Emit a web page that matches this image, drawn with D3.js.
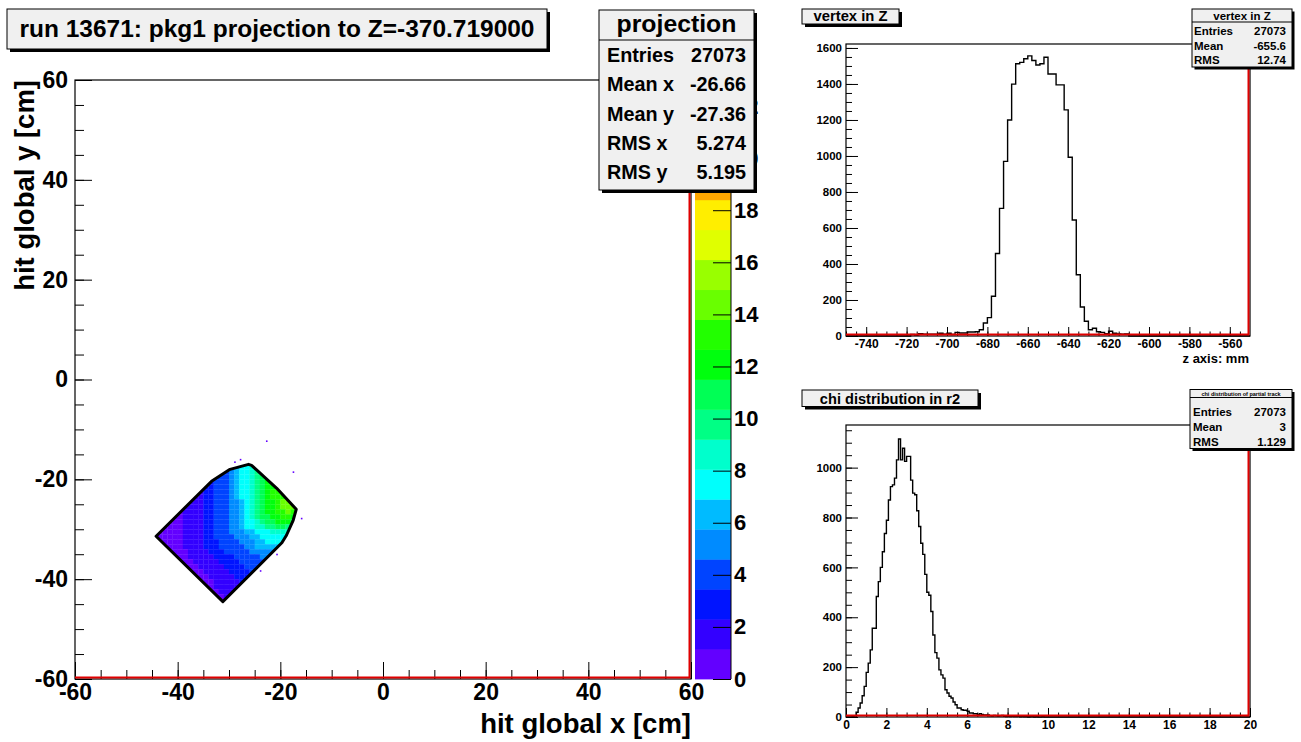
<!DOCTYPE html>
<html>
<head>
<meta charset="utf-8">
<script src="https://cdn.jsdelivr.net/npm/d3@7"></script>
<style>
  body { margin: 0; background: #fff; }
  svg { display: block; }
</style>
</head>
<body>
<svg id="canvas"></svg>
<script>
// ---------------- data ----------------

// hit map: projection of pkg1 tracks (cm). 1 cm bins; each row lists the counts
// of consecutive bins starting at hitRowStart (lower x edge), rows from y = -18 down to y = -45
const hitBinSize = 1;
const hitRowY = [-18, -19, -20, -21, -22, -23, -24, -25, -26, -27, -28, -29, -30, -31,
                 -32, -33, -34, -35, -36, -37, -38, -39, -40, -41, -42, -43, -44, -45];
const hitRowStart = [-29, -31, -33, -34, -35, -36, -37, -38, -39, -40, -41, -42, -43, -44,
                     -45, -44, -43, -42, -41, -40, -39, -38, -37, -36, -35, -34, -33, -32];
const hitRowCounts = [
  [6, 7, 8, 9],
  [4.5, 5, 6, 7, 8, 9, 10],
  [3.5, 4, 4.5, 5, 6, 7, 8, 9, 10, 10.5],
  [3, 3.5, 4, 4.5, 5, 6, 7, 8, 9, 10, 11, 11.5],
  [2.5, 3, 3.5, 4, 4.5, 5, 6, 7, 8, 9, 10, 11, 12, 12],
  [2, 2.5, 3, 3.5, 4, 4.5, 5, 6, 7, 8, 9, 10, 11, 12, 13, 13],
  [2, 2, 2.5, 3, 3.5, 4, 4.5, 5, 6, 7, 8, 9, 10, 11, 12, 13, 13.5, 13.5],
  [1.5, 2, 2, 2.5, 3, 3.5, 4, 4.5, 5, 5.5, 6.5, 7.5, 8.5, 9.5, 10.5, 11.5, 12.5, 13.5, 14, 14],
  [1.5, 1.5, 2, 2, 2.5, 3, 3.5, 4, 4.5, 5, 5.5, 6.5, 7.5, 8.5, 9.5, 10.5, 11.5, 12.5, 13.5, 14, 14.5, 14],
  [1, 1.5, 1.5, 2, 2, 2.5, 3, 3.5, 4, 4.5, 5, 5.5, 6.5, 7.5, 8.5, 9.5, 10.5, 11.5, 12.5, 13, 13.5, 14, 13.5, 13],
  [1, 1, 1.5, 1.5, 2, 2, 2.5, 3, 3.5, 4, 4.5, 5, 5.5, 6.5, 7.5, 8.5, 9.5, 10.5, 11, 12, 12.5, 13, 13, 12.5],
  [1, 1, 1, 1.5, 1.5, 2, 2, 2.5, 3, 3.5, 4, 4.5, 5, 5.5, 6.5, 7, 8, 9, 9.5, 10.5, 11, 11.5, 12, 11.5, 11],
  [1, 1, 1, 1, 1.5, 1.5, 2, 2, 2.5, 3, 3.5, 4, 4.5, 5, 5.5, 6, 7, 7.5, 8.5, 9, 9.5, 10, 10.5, 10.5, 10],
  [1, 1, 1, 1, 1, 1.5, 1.5, 2, 2, 2.5, 3, 3.5, 4, 4.5, 5, 5, 5.5, 6, 6.5, 7, 7.5, 8, 8.5, 9, 9, 8.5],
  [1, 1, 1, 1, 1, 1, 1.5, 1.5, 2, 2, 2.5, 3, 3.5, 4, 4, 4.5, 5, 5, 5.5, 6, 6.5, 7, 7.5, 8, 8, 8],
  [1, 1, 1, 1, 1, 1.5, 1.5, 2, 2, 2.5, 3, 3, 3.5, 4, 4, 4.5, 5, 5, 5.5, 6, 6.5, 7, 7, 7, 7],
  [1, 1, 1, 1, 1.5, 1.5, 2, 2, 2.5, 2.5, 3, 3.5, 3.5, 4, 4.5, 4.5, 5, 5.5, 6, 6, 6.5, 6.5, 6],
  [1, 1, 1, 1, 1.5, 1.5, 2, 2, 2.5, 2.5, 3, 3.5, 3.5, 4, 4, 4.5, 5, 5, 5.5, 5.5, 5.5],
  [1, 1, 1, 1.5, 1.5, 1.5, 2, 2, 2.5, 2.5, 3, 3, 3.5, 4, 4, 4.5, 4.5, 5, 5],
  [1, 1, 1, 1.5, 1.5, 2, 2, 2, 2.5, 2.5, 3, 3, 3.5, 3.5, 4, 4, 4.5],
  [1, 1, 1, 1.5, 1.5, 1.5, 2, 2, 2.5, 2.5, 3, 3, 3.5, 3.5, 4],
  [1, 1, 1, 1.5, 1.5, 2, 2, 2, 2.5, 2.5, 3, 3, 3.5],
  [1, 1, 1, 1.5, 1.5, 1.5, 2, 2, 2.5, 2.5, 3],
  [1, 1, 1, 1.5, 1.5, 2, 2, 2, 2.5],
  [1, 1, 1.5, 1.5, 1.5, 2, 2],
  [1, 1, 1.5, 1.5, 1.5],
  [1, 1, 1.5],
  [1, 1]
];
// acceptance outline (cm)
const acceptanceX = [-44.2, -33.4, -29.8, -26.2, -25.6, -20.7, -16.9, -17.5, -18.8, -19.7, -31.2];
const acceptanceY = [-31.4, -20.4, -18.0, -17.0, -17.2, -21.8, -26.0, -28.2, -31.2, -32.7, -44.5];
// isolated hits outside the outline (cm)
const strayX = [-22.8, -17.6, -16.0, -20.8, -24.0, -27.9, -29.0];
const strayY = [-12.5, -18.7, -28.0, -35.2, -38.5, -16.2, -16.7];
const hitTicks = [-60, -40, -20, 0, 20, 40, 60];
const hitMinorTicks = d3.range(-60, 60.1, 5);
const zMax = 23;
const zTicks = [0, 2, 4, 6, 8, 10, 12, 14, 16, 18, 20, 22];

// vertex in Z: 2 mm bins starting at -750 mm
const vzStart = -750, vzBin = 2;
const vzCounts = [
  0, 0, 0, 0, 0, 0, 0, 0, 0, 0, 0, 0, 0, 0, 0, 0,
  8, 5, 13, 10, 10, 10, 10, 15, 10, 15, 8, 20, 17, 17, 22, 22, 24, 35,
  72, 102, 221, 458, 709, 970, 1200, 1399, 1512, 1520, 1540, 1556, 1530, 1505, 1512, 1548,
  1455, 1455, 1395, 1395, 1256, 993, 644, 340, 161, 82, 35, 43, 24, 20, 13, 26, 15, 12, 10, 12,
  0, 0, 0, 0, 0, 0, 0, 0, 0, 0, 0, 0, 0, 0, 0, 0, 0, 0, 0, 0, 0, 0, 0, 0, 0, 0, 0, 0, 0, 0
];
const vzYMax = 1622;
const vzXTicks = [-740, -720, -700, -680, -660, -640, -620, -600, -580, -560];
const vzYTicks = [0, 200, 400, 600, 800, 1000, 1200, 1400, 1600];

// chi distribution: 0.1 bins from 0 to 20
const chiStart = 0, chiBin = 0.1;
const chiCounts = [
  0, 0, 0, 2, 4, 19, 36, 56, 85, 123,
  179, 216, 269, 356, 356, 483, 543, 600, 663, 736,
  789, 870, 924, 931, 958, 1031, 1115, 1031, 1078, 1025,
  1045, 1045, 950, 898, 891, 827, 764, 697, 652, 572,
  500, 488, 423, 329, 258, 236, 189, 169, 156, 109,
  96, 83, 76, 60, 49, 36, 36, 29, 27, 27,
  23, 16, 16, 13, 13, 9, 13, 10, 8, 8,
  8, 5, 4, 6, 5, 4, 5, 6, 3, 2,
  3, 2, 3, 2, 2, 3, 1, 2, 1, 1,
  0, 1, 1, 0, 1, 0, 0, 1, 0, 0,
  0, 0, 0, 0, 0, 0, 0, 0, 0, 0, 0, 0, 0, 0, 0, 0, 0, 0, 0, 0,
  0, 0, 0, 0, 0, 0, 0, 0, 0, 0, 0, 0, 0, 0, 0, 0, 0, 0, 0, 0,
  0, 0, 0, 0, 0, 0, 0, 0, 0, 0, 0, 0, 0, 0, 0, 0, 0, 0, 0, 0,
  0, 0, 0, 0, 0, 0, 0, 0, 0, 0, 0, 0, 0, 0, 0, 0, 0, 0, 0, 0,
  0, 0, 0, 0, 0, 0, 0, 0, 0, 0, 0, 0, 0, 0, 0, 0, 0, 0, 0, 0
];
const chiYMax = 1171;
const chiXTicks = [0, 2, 4, 6, 8, 10, 12, 14, 16, 18, 20];
const chiYTicks = [0, 200, 400, 600, 800, 1000];

// statistics boxes
const projStats = [["Entries", "27073"], ["Mean x", "-26.66"], ["Mean y", "-27.36"], ["RMS x", "5.274"], ["RMS y", "5.195"]];
const vzStats = [["Entries", "27073"], ["Mean", "-655.6"], ["RMS", "12.74"]];
const chiStats = [["Entries", "27073"], ["Mean", "3"], ["RMS", "1.129"]];

// ---------------- drawing ----------------
const FONT = '"Liberation Sans", Arial, Helvetica, sans-serif';
const W = 1301, H = 742;
const svg = d3.select('#canvas').attr('width', W).attr('height', H);
svg.append('rect').attr('width', W).attr('height', H).attr('fill', '#fff');

// palette: 20 contour levels mapped onto a 50-colour rainbow (violet -> red)
const nLevels = 20, nPalette = 50;
function levelColor(k) {
  const idx = Math.floor((k + 0.99) * nPalette / nLevels);
  const hue = 280 - (idx + 1) * (280 / nPalette);
  return d3.hsl(hue, 1, 0.5).formatHex();
}
function valueColor(v) {
  const k = Math.max(0, Math.min(nLevels - 1, Math.floor(v / (zMax / nLevels))));
  return levelColor(k);
}

function styleAxis(g, size) {
  g.select('.domain').remove();
  g.selectAll('line').attr('stroke', '#000').attr('stroke-width', 1);
  g.selectAll('text')
    .attr('font-family', FONT).attr('font-weight', 'bold')
    .attr('font-size', size).attr('fill', '#000');
}

function shadowBox(x0, y0, x1, y1, off) {
  svg.append('rect').attr('x', x0 + off).attr('y', y0 + off)
    .attr('width', x1 - x0).attr('height', y1 - y0).attr('fill', '#000');
  svg.append('rect').attr('x', x0).attr('y', y0)
    .attr('width', x1 - x0).attr('height', y1 - y0)
    .attr('fill', '#f0f0f0').attr('stroke', '#000').attr('stroke-width', 1);
}

function titleBox(x0, y0, x1, y1, off, label, size, baseline, fitWidth) {
  shadowBox(x0, y0, x1, y1, off);
  const t = svg.append('text').attr('x', (x0 + x1) / 2).attr('y', baseline)
    .attr('text-anchor', 'middle').attr('font-family', FONT).attr('font-weight', 'bold')
    .attr('font-size', size).text(label);
  if (fitWidth) t.attr('textLength', fitWidth).attr('lengthAdjust', 'spacingAndGlyphs');
}

function statsBox(o) {
  shadowBox(o.x0, o.y0, o.x1, o.y1, o.off);
  svg.append('line').attr('x1', o.x0).attr('x2', o.x1).attr('y1', o.lineY).attr('y2', o.lineY)
    .attr('stroke', '#000').attr('stroke-width', 1);
  svg.append('text').attr('x', (o.x0 + o.x1) / 2).attr('y', o.titleY)
    .attr('text-anchor', 'middle').attr('font-family', FONT).attr('font-weight', 'bold')
    .attr('font-size', o.titleSize).text(o.title);
  const rows = svg.append('g').attr('font-family', FONT).attr('font-weight', 'bold').attr('font-size', o.rowSize);
  o.rows.forEach((r, i) => {
    rows.append('text').attr('x', o.labelX).attr('y', o.rowY[i]).text(r[0]);
    rows.append('text').attr('x', o.valueX).attr('y', o.rowY[i]).attr('text-anchor', 'end').text(r[1]);
  });
}

function frame(x0, y0, x1, y1) {
  svg.append('rect').attr('x', x0).attr('y', y0).attr('width', x1 - x0).attr('height', y1 - y0)
    .attr('fill', 'none').attr('stroke', '#000').attr('stroke-width', 1.2);
  svg.append('path').attr('d', `M${x0},${y1 - 1.5}H${x1 - 1.5}V${y0}`)
    .attr('fill', 'none').attr('stroke', '#e00000').attr('stroke-width', 2);
}

// ===== left pad: hit map =====
const hx = d3.scaleLinear([-60, 60], [75, 691]);
const hy = d3.scaleLinear([-60, 60], [679, 80]);

const outline = acceptanceX.map((x, i) => [hx(x), hy(acceptanceY[i])]);
svg.append('clipPath').attr('id', 'acceptance')
  .append('path').attr('d', d3.line()(outline) + 'Z');

const cells = [];
hitRowY.forEach((y0, r) => hitRowCounts[r].forEach((v, c) => {
  if (v > 0) cells.push({ x0: hitRowStart[r] + c * hitBinSize, y0, v });
}));
svg.append('g').attr('clip-path', 'url(#acceptance)')
  .selectAll('rect').data(cells).join('rect')
  .attr('x', d => hx(d.x0)).attr('y', d => hy(d.y0 + hitBinSize))
  .attr('width', d => hx(d.x0 + hitBinSize) - hx(d.x0) + 0.3)
  .attr('height', d => hy(d.y0) - hy(d.y0 + hitBinSize) + 0.3)
  .attr('fill', d => valueColor(d.v));

svg.append('g').selectAll('rect').data(strayX).join('rect')
  .attr('x', d => hx(d)).attr('y', (d, i) => hy(strayY[i]) - 1.5)
  .attr('width', 1.6).attr('height', 1.6).attr('fill', valueColor(1));

svg.append('path').attr('d', d3.line()(outline) + 'Z')
  .attr('fill', 'none').attr('stroke', '#000').attr('stroke-width', 3).attr('stroke-linejoin', 'round');

// axes
svg.append('g').attr('transform', 'translate(75,0)')
  .call(d3.axisLeft(hy).tickValues(hitMinorTicks).tickSize(-9).tickFormat(''))
  .call(g => styleAxis(g, 23));
svg.append('g').attr('transform', 'translate(75,0)')
  .call(d3.axisLeft(hy).tickValues(hitTicks).tickSize(-17).tickPadding(7).tickFormat(d => String(d)))
  .call(g => styleAxis(g, 23));
svg.append('g').attr('transform', 'translate(0,679)')
  .call(d3.axisBottom(hx).tickValues(hitMinorTicks).tickSize(-9).tickFormat(''))
  .call(g => styleAxis(g, 23));
svg.append('g').attr('transform', 'translate(0,679)')
  .call(d3.axisBottom(hx).tickValues(hitTicks).tickSize(-17).tickPadding(5).tickFormat(d => String(d)))
  .call(g => styleAxis(g, 23));
frame(75, 80, 691, 679);

svg.append('text').attr('transform', 'translate(34,80) rotate(-90)')
  .attr('text-anchor', 'end').attr('font-family', FONT).attr('font-weight', 'bold')
  .attr('font-size', 27.5).text('hit global y [cm]');
svg.append('text').attr('x', 691).attr('y', 733)
  .attr('text-anchor', 'end').attr('font-family', FONT).attr('font-weight', 'bold')
  .attr('font-size', 27.5).text('hit global x [cm]');

// colour bar
const zs = d3.scaleLinear([0, zMax], [679, 80]);
const levels = d3.range(nLevels);
svg.append('g').selectAll('rect').data(levels).join('rect')
  .attr('x', 695).attr('width', 36)
  .attr('y', k => zs((k + 1) * zMax / nLevels))
  .attr('height', k => zs(k * zMax / nLevels) - zs((k + 1) * zMax / nLevels) + 0.4)
  .attr('fill', k => levelColor(k));
svg.append('g').attr('transform', 'translate(731,0)')
  .call(d3.axisRight(zs).tickValues(zTicks).tickSize(-18).tickPadding(3).tickFormat(d => String(d)))
  .call(g => styleAxis(g, 22));
svg.append('line').attr('x1', 731).attr('x2', 731).attr('y1', 80).attr('y2', 679)
  .attr('stroke', '#000').attr('stroke-width', 1);

titleBox(7, 9, 547, 49, 3, 'run 13671: pkg1 projection to Z=-370.719000', 23, 37, 515);
statsBox({
  x0: 599, y0: 10, x1: 754, y1: 190, off: 3, lineY: 40,
  title: 'projection', titleSize: 24.8, titleY: 31.5,
  rows: projStats, rowSize: 19.8, rowY: [62, 91, 121, 150, 179], labelX: 607, valueX: 746
});

// ===== step histogram helper =====
function stepHist(counts, start, bin, xs, ys) {
  const pts = counts.map((c, i) => [start + i * bin, c]);
  pts.push([start + counts.length * bin, counts[counts.length - 1]]);
  svg.append('path')
    .attr('d', d3.line().x(d => xs(d[0])).y(d => ys(d[1])).curve(d3.curveStepAfter)(pts))
    .attr('fill', 'none').attr('stroke', '#000').attr('stroke-width', 1.4);
}

// ===== top right: vertex in Z =====
const vx = d3.scaleLinear([-750, -550], [846, 1250]);
const vy = d3.scaleLinear([0, vzYMax], [336, 44]);
svg.append('g').attr('transform', 'translate(846,0)')
  .call(d3.axisLeft(vy).tickValues(d3.range(0, vzYMax, 50)).tickSize(-6).tickFormat(''))
  .call(g => styleAxis(g, 11.5));
svg.append('g').attr('transform', 'translate(846,0)')
  .call(d3.axisLeft(vy).tickValues(vzYTicks).tickSize(-12).tickPadding(4).tickFormat(d => String(d)))
  .call(g => styleAxis(g, 11.5));
svg.append('g').attr('transform', 'translate(0,336)')
  .call(d3.axisBottom(vx).tickValues(d3.range(-750, -550, 5)).tickSize(-4.5).tickFormat(''))
  .call(g => styleAxis(g, 12));
svg.append('g').attr('transform', 'translate(0,336)')
  .call(d3.axisBottom(vx).tickValues(vzXTicks).tickSize(-9).tickPadding(3).tickFormat(d => String(d)))
  .call(g => styleAxis(g, 12));
stepHist(vzCounts, vzStart, vzBin, vx, vy);
frame(846, 44, 1250, 336);
svg.append('text').attr('x', 1249).attr('y', 362.5).attr('text-anchor', 'end')
  .attr('font-family', FONT).attr('font-weight', 'bold').attr('font-size', 13).text('z axis: mm');

titleBox(802, 9, 899, 24, 3, 'vertex in Z', 14.8, 21.3);
statsBox({
  x0: 1192, y0: 9, x1: 1292, y1: 67, off: 2.5, lineY: 22,
  title: 'vertex in Z', titleSize: 11.5, titleY: 19.6,
  rows: vzStats, rowSize: 11.5, rowY: [35, 50, 64.3], labelX: 1194, valueX: 1286
});

// ===== bottom right: chi distribution =====
const cx = d3.scaleLinear([0, 20], [846, 1250]);
const cy = d3.scaleLinear([0, chiYMax], [717, 425]);
svg.append('g').attr('transform', 'translate(846,0)')
  .call(d3.axisLeft(cy).tickValues(d3.range(0, chiYMax, 50)).tickSize(-6).tickFormat(''))
  .call(g => styleAxis(g, 11.5));
svg.append('g').attr('transform', 'translate(846,0)')
  .call(d3.axisLeft(cy).tickValues(chiYTicks).tickSize(-12).tickPadding(4).tickFormat(d => String(d)))
  .call(g => styleAxis(g, 11.5));
svg.append('g').attr('transform', 'translate(0,717)')
  .call(d3.axisBottom(cx).tickValues(d3.range(0, 20.01, 0.5)).tickSize(-4.5).tickFormat(''))
  .call(g => styleAxis(g, 12));
svg.append('g').attr('transform', 'translate(0,717)')
  .call(d3.axisBottom(cx).tickValues(chiXTicks).tickSize(-9).tickPadding(3).tickFormat(d => String(d)))
  .call(g => styleAxis(g, 12));
stepHist(chiCounts, chiStart, chiBin, cx, cy);
frame(846, 425, 1250, 717);

titleBox(802, 390, 978, 406.5, 3, 'chi distribution in r2', 14.6, 403.5);
statsBox({
  x0: 1190, y0: 389.5, x1: 1292, y1: 448.5, off: 2.5, lineY: 397.5,
  title: 'chi distribution of partial track', titleSize: 5.5, titleY: 395.6,
  rows: chiStats, rowSize: 11.5, rowY: [416, 431, 445.5], labelX: 1193, valueX: 1286
});
</script>
</body>
</html>
